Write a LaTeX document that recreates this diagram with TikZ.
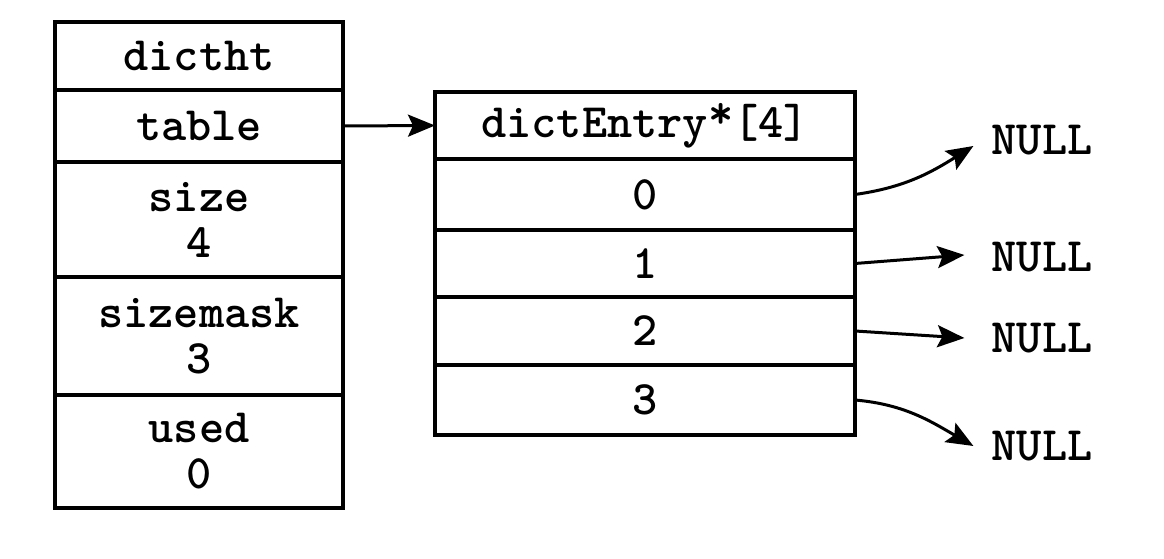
\documentclass[tikz,border=0pt]{standalone}
\usepackage{fontspec}
\usetikzlibrary{arrows.meta}
\tikzset{
  cell/.style={draw, line width=4.5pt, inner sep=0pt, outer sep=0pt, align=center,
    font=\ttfamily\bfseries\fontsize{48}{46}\selectfont},
  lcell/.style={cell, minimum width=288pt},
  rcell/.style={cell, minimum width=420pt},
  nulltxt/.style={inner sep=0pt, font=\ttfamily\bfseries\fontsize{48}{46}\selectfont},
  ptr/.style={line width=3pt, -{Stealth[length=27pt,width=22pt,inset=5pt]}}
}
\begin{document}
\begin{tikzpicture}[x=1pt,y=1pt]
\useasboundingbox[fill=white] (0,0) rectangle (1164,559);
% left table
\node[lcell, minimum height=68pt]  (dictht)   at (199,503)   {dictht};
\node[lcell, minimum height=72pt]  (table)    at (199,433)   {table};
\node[lcell, minimum height=115pt] (size)     at (199,339.5) {size\\4};
\node[lcell, minimum height=118pt] (sizemask) at (199,223)   {sizemask\\3};
\node[lcell, minimum height=113pt] (used)     at (199,107.5) {used\\0};
% right table
\node[rcell, minimum height=67pt] (hdr) at (645,433.5) {dictEntry\raisebox{0.18em}{*}[4]};
\node[rcell, minimum height=71pt] (e0)  at (645,364.5) {0};
\node[rcell, minimum height=67pt] (e1)  at (645,295.5) {1};
\node[rcell, minimum height=68pt] (e2)  at (645,228)   {2};
\node[rcell, minimum height=70pt] (e3)  at (645,159)   {3};
% NULLs
\node[nulltxt] (n0) at (1042,419) {NULL};
\node[nulltxt] (n1) at (1042,302) {NULL};
\node[nulltxt] (n2) at (1042,221) {NULL};
\node[nulltxt] (n3) at (1042,113) {NULL};
% connectors
\draw[ptr] (table.east) -- (hdr.west);
\draw[ptr] (e0.east) to[out=8, in=-148] ([xshift=-18pt,yshift=-6pt]n0.west);
\draw[ptr] (e1.east) -- ([xshift=-27pt,yshift=2pt]n1.west);
\draw[ptr] (e2.east) -- ([xshift=-27pt]n2.west);
\draw[ptr] (e3.east) to[out=-5, in=150] ([xshift=-18pt]n3.west);
\end{tikzpicture}
\end{document}
